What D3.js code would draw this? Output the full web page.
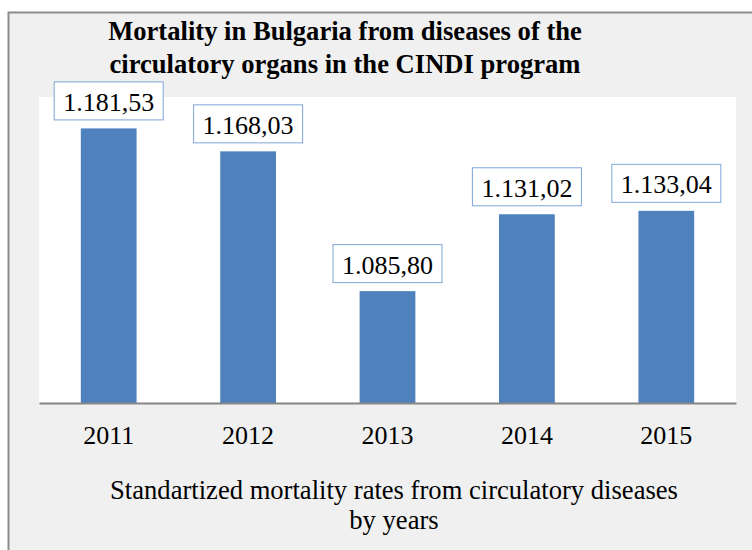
<!DOCTYPE html>
<html>
<head>
<meta charset="utf-8">
<script src="https://cdn.jsdelivr.net/npm/d3@7"></script>
<style>
  body { margin: 0; background: #fff; }
</style>
</head>
<body>
<script>
// data
var years = ["2011", "2012", "2013", "2014", "2015"];
var rates = [1181.53, 1168.03, 1085.80, 1131.02, 1133.04];
var titleLines = ["Mortality in Bulgaria from diseases of the", "circulatory organs in the CINDI program"];
var axisTitleLines = ["Standartized mortality rates from circulatory diseases", "by years"];

var W = 752, H = 550;
var plot = {left: 39, right: 736, top: 97, bottom: 403};
var SERIF = "'Liberation Serif'";

var svg = d3.select('body').append('svg')
  .attr('width', W).attr('height', H);

// outer frame
svg.append('rect')
  .attr('x', 8.5).attr('y', 12.5)
  .attr('width', W + 10).attr('height', H + 10)
  .attr('fill', '#f0f0f0')
  .attr('stroke', '#8c8c8c').attr('stroke-width', 2);

// plot area
svg.append('rect')
  .attr('x', plot.left).attr('y', plot.top)
  .attr('width', plot.right - plot.left).attr('height', plot.bottom - plot.top)
  .attr('fill', '#fff');

var x = d3.scaleBand().domain(years).range([plot.left, plot.right]).paddingInner(0.6).paddingOuter(0.3);
var y = d3.scaleLinear().domain([1020, 1200]).range([plot.bottom, plot.top]);

var fmt = function(v){
  // 1181.53 -> 1.181,53
  var s = v.toFixed(2).split('.');
  var intPart = s[0].replace(/\B(?=(\d{3})+(?!\d))/g, '.');
  return intPart + ',' + s[1];
};

svg.selectAll('.bar')
  .data(rates)
  .enter()
  .append('rect')
    .attr('class', 'bar')
    .attr('x', function(d, i){ return x(years[i]); })
    .attr('y', function(d){ return y(d); })
    .attr('width', x.bandwidth())
    .attr('height', function(d){ return y(y.domain()[0]) - y(d); })
    .attr('fill', '#4f81bd');

// axis
var xAxis = svg.append('g')
  .attr('transform', 'translate(0,' + plot.bottom + ')')
  .call(d3.axisBottom(x).tickSize(0).tickPadding(23));
xAxis.attr('font-family', null).attr('font-size', null);
xAxis.select('.domain').attr('stroke', '#868686').attr('stroke-width', 2);
xAxis.selectAll('text')
  .style('font-family', SERIF)
  .style('font-size', '26px')
  .attr('fill', '#000')
  .attr('dy', '0.71em');

// value labels with boxes
var labels = svg.selectAll('.lbl')
  .data(rates)
  .enter()
  .append('g')
    .attr('class', 'lbl')
    .attr('transform', function(d, i){
      return 'translate(' + (x(years[i]) + x.bandwidth() / 2) + ',' + (y(d) - 8) + ')';
    });
labels.append('rect')
  .attr('x', -54.5).attr('y', -38.5)
  .attr('width', 109).attr('height', 38)
  .attr('fill', '#fff')
  .attr('stroke', '#7ea6d8').attr('stroke-width', 1);
labels.append('text')
  .attr('text-anchor', 'middle')
  .attr('y', -9.5)
  .style('font-family', SERIF)
  .style('font-size', '26px')
  .attr('fill', '#000')
  .text(function(d){ return fmt(d); });

// title
var title = svg.append('g')
  .style('font-family', SERIF)
  .style('font-size', '26.6px').style('font-weight', 'bold');
title.selectAll('text')
  .data(titleLines)
  .enter()
  .append('text')
    .attr('text-anchor', 'middle')
    .attr('x', 345)
    .attr('y', function(d, i){ return 40 + i * 33; })
    .text(function(d){ return d; });

// axis title
var axisTitle = svg.append('g')
  .style('font-family', SERIF)
  .style('font-size', '26.6px');
axisTitle.selectAll('text')
  .data(axisTitleLines)
  .enter()
  .append('text')
    .attr('text-anchor', 'middle')
    .attr('x', 394)
    .attr('y', function(d, i){ return 499 + i * 30; })
    .text(function(d){ return d; });
</script>
</body>
</html>
